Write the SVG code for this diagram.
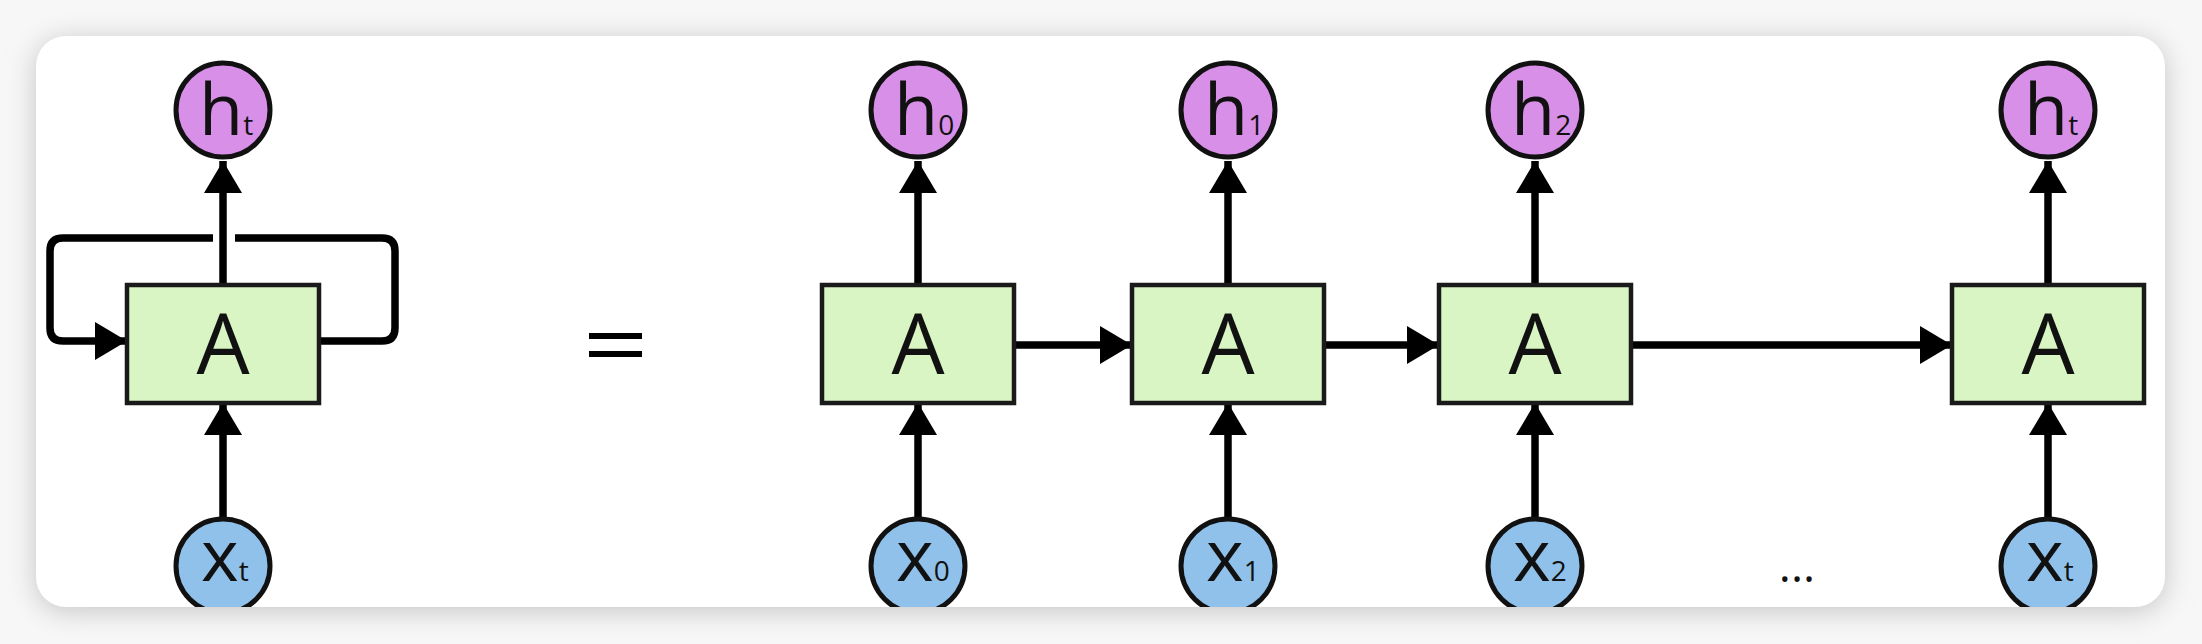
<svg xmlns="http://www.w3.org/2000/svg" width="2202" height="644" viewBox="0 0 2202 644">
<style>
.box{fill:#d9f5c3;stroke:#1a1a1a;stroke-width:4.5}
.h{fill:#d78fe8;stroke:#111;stroke-width:5}
.x{fill:#8fc1ea;stroke:#111;stroke-width:5}
.ln{fill:none;stroke:#000;stroke-width:7.5}
.t{font-family:"Open Sans","Liberation Sans",sans-serif;fill:#111;font-weight:500}
.lbl{font-size:72px}
.sub{font-size:28px}
.a{font-size:84px;text-anchor:middle}
</style>
<defs>
<filter id="sh" x="-10%" y="-30%" width="120%" height="160%">
<feGaussianBlur stdDeviation="14"/>
</filter>
<clipPath id="card"><rect x="36" y="36" width="2129" height="571" rx="30"/></clipPath>
<marker id="ah" viewBox="0 0 32 38" refX="32" refY="19" markerWidth="32" markerHeight="38" markerUnits="userSpaceOnUse" orient="auto">
<path d="M0,0 L32,19 L0,38 Z" fill="#000"/>
</marker>
</defs>
<rect x="0" y="0" width="2202" height="644" fill="#f7f7f7"/>
<rect x="36" y="40" width="2129" height="571" rx="30" fill="#c4c4c4" filter="url(#sh)"/>
<rect x="36" y="36" width="2129" height="571" rx="30" fill="#fff"/>

<g id="connectors">
<path class="ln" d="M223,518 V403" marker-end="url(#ah)"/>
<path class="ln" d="M223,285 V161" marker-end="url(#ah)"/>
<path class="ln" d="M319,341 H382 Q395,341 395,328 V251 Q395,238 382,238 H235"/>
<path class="ln" d="M213,238 H63 Q50,238 50,251 V328 Q50,341 63,341 H127" marker-end="url(#ah)"/>
<path class="ln" d="M918,518 V403" marker-end="url(#ah)"/>
<path class="ln" d="M918,285 V161" marker-end="url(#ah)"/>
<path class="ln" d="M1228,518 V403" marker-end="url(#ah)"/>
<path class="ln" d="M1228,285 V161" marker-end="url(#ah)"/>
<path class="ln" d="M1535,518 V403" marker-end="url(#ah)"/>
<path class="ln" d="M1535,285 V161" marker-end="url(#ah)"/>
<path class="ln" d="M2048,518 V403" marker-end="url(#ah)"/>
<path class="ln" d="M2048,285 V161" marker-end="url(#ah)"/>
<path class="ln" d="M1014,345 H1132" marker-end="url(#ah)"/>
<path class="ln" d="M1324,345 H1439" marker-end="url(#ah)"/>
<path class="ln" d="M1631,345 H1952" marker-end="url(#ah)"/>
</g>

<g id="eq"><rect x="589" y="333" width="53" height="6" fill="#000"/><rect x="589" y="351" width="53" height="6" fill="#000"/></g>
<text class="t" x="1797" y="582" font-size="46" text-anchor="middle">...</text>

<g id="A_loop"><rect class="box" x="127" y="285" width="192" height="118"/><text class="t a" x="223" y="374">A</text></g>
<g id="A0"><rect class="box" x="822" y="285" width="192" height="118"/><text class="t a" x="918" y="374">A</text></g>
<g id="A1"><rect class="box" x="1132" y="285" width="192" height="118"/><text class="t a" x="1228" y="374">A</text></g>
<g id="A2"><rect class="box" x="1439" y="285" width="192" height="118"/><text class="t a" x="1535" y="374">A</text></g>
<g id="At"><rect class="box" x="1952" y="285" width="192" height="118"/><text class="t a" x="2048" y="374">A</text></g>

<g id="h_t_loop"><circle class="h" cx="223" cy="110" r="47"/><text class="t lbl" x="199" y="135">h<tspan class="sub">t</tspan></text></g>
<g id="h0"><circle class="h" cx="918" cy="110" r="47"/><text class="t lbl" x="894" y="135">h<tspan class="sub">0</tspan></text></g>
<g id="h1"><circle class="h" cx="1228" cy="110" r="47"/><text class="t lbl" x="1204" y="135">h<tspan class="sub">1</tspan></text></g>
<g id="h2"><circle class="h" cx="1535" cy="110" r="47"/><text class="t lbl" x="1511" y="135">h<tspan class="sub">2</tspan></text></g>
<g id="h_t"><circle class="h" cx="2048" cy="110" r="47"/><text class="t lbl" x="2024" y="135">h<tspan class="sub">t</tspan></text></g>

<g clip-path="url(#card)">
<g id="x_t_loop"><circle class="x" cx="223" cy="566" r="47"/><text class="t lbl" x="201" y="581">x<tspan class="sub">t</tspan></text></g>
<g id="x0"><circle class="x" cx="918" cy="566" r="47"/><text class="t lbl" x="896" y="581">x<tspan class="sub">0</tspan></text></g>
<g id="x1"><circle class="x" cx="1228" cy="566" r="47"/><text class="t lbl" x="1206" y="581">x<tspan class="sub">1</tspan></text></g>
<g id="x2"><circle class="x" cx="1535" cy="566" r="47"/><text class="t lbl" x="1513" y="581">x<tspan class="sub">2</tspan></text></g>
<g id="x_t"><circle class="x" cx="2048" cy="566" r="47"/><text class="t lbl" x="2026" y="581">x<tspan class="sub">t</tspan></text></g>
</g>
</svg>
